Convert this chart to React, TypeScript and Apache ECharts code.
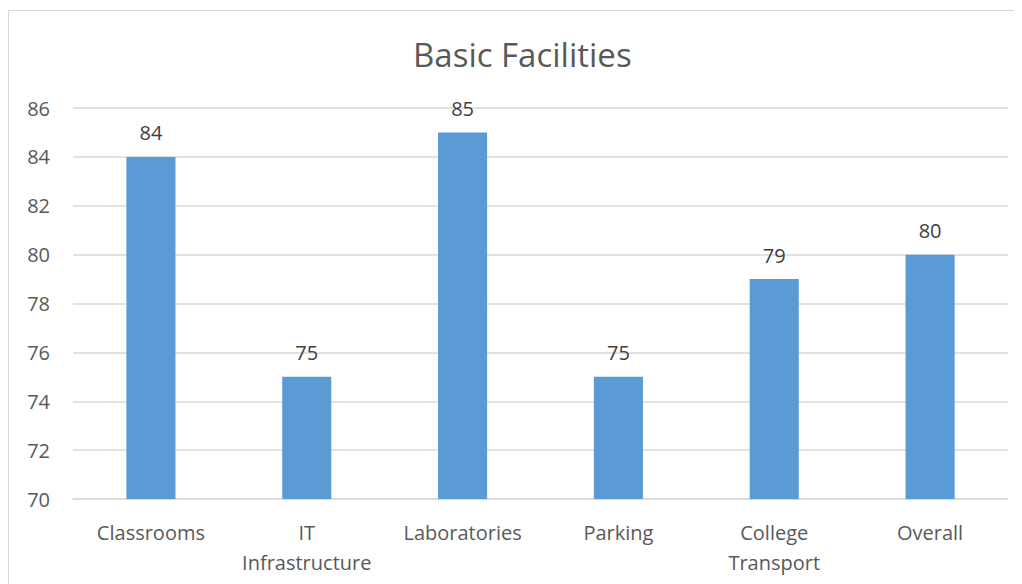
import React, { useEffect, useRef } from "react";
import * as echarts from "echarts";

const categories = ["Classrooms", "IT\nInfrastructure", "Laboratories", "Parking", "College\nTransport", "Overall"];
const values = [84, 75, 85, 75, 79, 80];
const titleText = "Basic Facilities";

export default function App() {
  const ref = useRef<HTMLDivElement>(null);
  useEffect(() => {
    if (!ref.current) return;
    const chart = echarts.init(ref.current, undefined, { renderer: "svg" });
    const font = "'Open Sans', 'Noto Sans', sans-serif";
    chart.setOption({
      animation: false,
      backgroundColor: "#ffffff",
      title: {
        text: titleText,
        left: 400,
        top: 25,
        textStyle: { fontFamily: font, fontSize: 33, fontWeight: "normal", color: "#595959" },
      },
      graphic: [
        {
          type: "rect",
          shape: { x: 0.5, y: 2.5, width: 1012, height: 620 },
          style: { fill: "none", stroke: "#d9d9d9", lineWidth: 1 },
          silent: true,
        },
      ],
      grid: { left: 65, right: 14, top: 100, bottom: 85, containLabel: false },
      xAxis: {
        type: "category",
        data: categories,
        axisTick: { show: false },
        axisLine: { lineStyle: { color: "#d9d9d9", width: 1.5 } },
        axisLabel: {
          fontFamily: font,
          fontSize: 20,
          color: "#595959",
          margin: 18,
          lineHeight: 30,
          interval: 0,
        },
      },
      yAxis: {
        type: "value",
        min: 70,
        max: 86,
        interval: 2,
        axisLine: { show: false },
        axisTick: { show: false },
        splitLine: { lineStyle: { color: "#d9d9d9", width: 1.5 } },
        axisLabel: { fontFamily: font, fontSize: 20, color: "#595959", margin: 23 },
      },
      series: [
        {
          type: "bar",
          data: values,
          barWidth: "31.5%",
          itemStyle: { color: "#5b9bd5" },
          label: {
            show: true,
            position: "top",
            distance: 14,
            fontFamily: font,
            fontSize: 20,
            color: "#404040",
          },
        },
      ],
    });
    return () => chart.dispose();
  }, []);
  return <div ref={ref} style={{ width: 1014, height: 576 }} />;
}
